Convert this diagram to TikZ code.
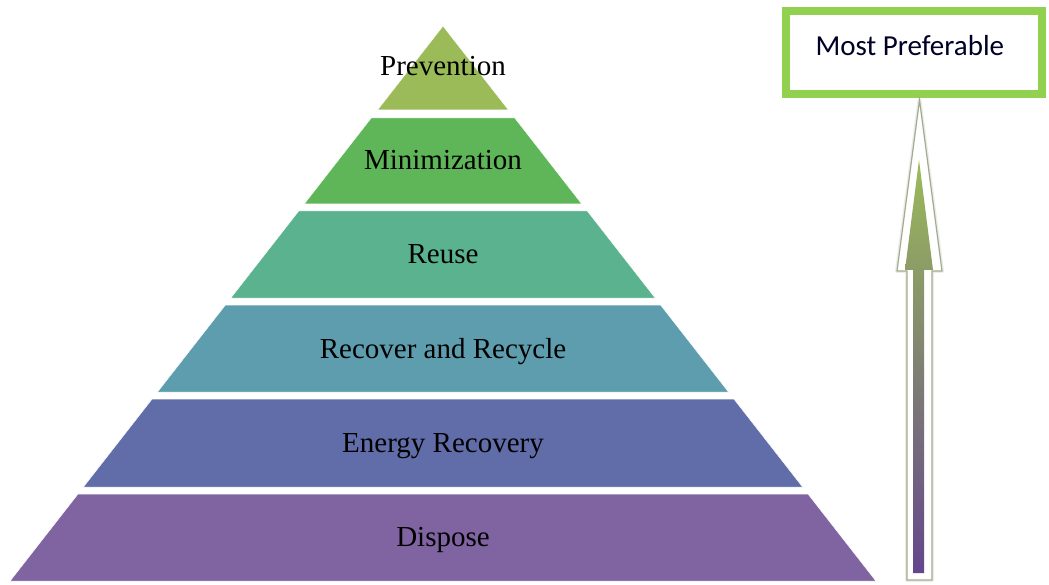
\documentclass[tikz,border=0pt]{standalone}
\usepackage{fontspec}
\setmainfont{Liberation Serif}
\newfontfamily\prefsans{Carlito}
\usetikzlibrary{positioning}

\definecolor{prevcol}{RGB}{155,187,89}
\definecolor{mincol}{RGB}{94,182,88}
\definecolor{reusecol}{RGB}{91,178,143}
\definecolor{reccol}{RGB}{94,157,174}
\definecolor{enercol}{RGB}{96,109,168}
\definecolor{dispcol}{RGB}{128,100,162}
\definecolor{boxgreen}{RGB}{146,208,80}
\definecolor{arrowedge}{RGB}{160,172,140}

\tikzset{
    level/.style={font=\fontsize{29}{31}\selectfont, anchor=base},
    band/.style={draw=white, line width=0.5pt}
}

\begin{document}
\begin{tikzpicture}[x=1pt, y=-1pt]
        \useasboundingbox (0,0) rectangle (1049,585);

        % pyramid bands
        \fill[band, fill=prevcol] (443,26) -- (508.5,110) -- (377.5,110) -- cycle;
        \fill[band, fill=mincol] (371.2,118) -- (514.8,118) -- (581.8,204) -- (304.2,204) -- cycle;
        \fill[band, fill=reusecol] (298.7,211) -- (587.3,211) -- (655.2,298) -- (230.8,298) -- cycle;
        \fill[band, fill=reccol] (225.4,305) -- (660.6,305) -- (728.5,392) -- (157.5,392) -- cycle;
        \fill[band, fill=enercol] (152.1,399) -- (733.9,399) -- (802.6,487) -- (83.4,487) -- cycle;
        \fill[band, fill=dispcol] (78,494) -- (808,494) -- (875.9,581) -- (10.1,581) -- cycle;

        \node[level] (prevention) at (443, 76) {Prevention};
        \node[level] (minimization) at (443, 170) {Minimization};
        \node[level] (reuse) at (443, 264) {Reuse};
        \node[level] (recycle) at (443, 358) {Recover and Recycle};
        \node[level] (energy) at (443, 452) {Energy Recovery};
        \node[level] (dispose) at (443, 546) {Dispose};

        % most preferable box
        \node[draw=boxgreen, line width=7pt, fill=white, minimum width=257pt,
              minimum height=84pt, inner sep=0pt] (pref) at (914, 52.5) {};
        \draw[boxgreen, line width=1.4pt] ([shift={(7.5,7.5)}]pref.north west)
              rectangle ([shift={(-7.5,-7.5)}]pref.south east);
        \node[font=\prefsans\fontsize{29}{31}\selectfont, anchor=west,
              text=black!85!blue] (preftext) at (812, 46) {Most Preferable};

        % arrow
        \coordinate (abot) at (919.5, 580);
        \draw[gray!15, line width=4pt, line join=round]
              (919.5,100) -- (942,271) -- (932,271) -- (932,580) -- (907,580)
              -- (907,271) -- (897,271) -- cycle;
        \draw[arrowedge, fill=white, line width=1.2pt]
              (919.5,100) -- (942,271) -- (932,271) -- (932,580) -- (907,580)
              -- (907,271) -- (897,271) -- cycle;
        \shade[top color=prevcol, middle color=gray!75!prevcol, bottom color={rgb,255:red,100;green,70;blue,140}]
              (919,160) -- (933,270) -- (924,270) -- (924,573) -- (913,573)
              -- (913,270) -- (905,270) -- cycle;

    \end{tikzpicture}
\end{document}
